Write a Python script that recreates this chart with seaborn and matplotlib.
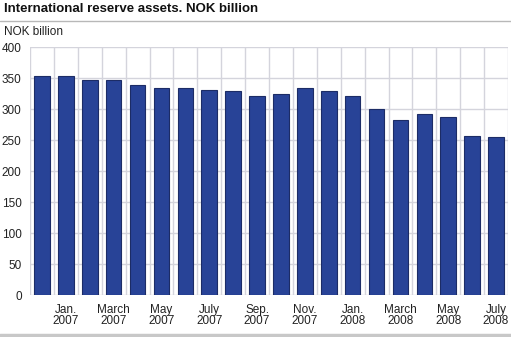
import matplotlib
matplotlib.use("Agg")
import matplotlib.pyplot as plt
import seaborn as sns
import pandas as pd
from matplotlib.lines import Line2D

months = ["Dec 2006", "Jan 2007", "Feb 2007", "Mar 2007", "Apr 2007", "May 2007",
          "Jun 2007", "Jul 2007", "Aug 2007", "Sep 2007", "Oct 2007", "Nov 2007",
          "Dec 2007", "Jan 2008", "Feb 2008", "Mar 2008", "Apr 2008", "May 2008",
          "Jun 2008", "Jul 2008"]
values = [354, 353, 347, 347, 339, 335, 334, 331, 329, 322, 324, 334,
          330, 321, 300, 283, 292, 287, 257, 255]
tick_labels = ["", "Jan.\n2007", "", "March\n2007", "", "May\n2007", "", "July\n2007",
               "", "Sep.\n2007", "", "Nov.\n2007", "", "Jan.\n2008", "", "March\n2008",
               "", "May\n2008", "", "July\n2008"]
yticks = [0, 50, 100, 150, 200, 250, 300, 350, 400]

sns.set_theme(style="white")
plt.rcParams["font.family"] = ["Liberation Sans", "DejaVu Sans"]

df = pd.DataFrame({"month": months, "value": values})

fig = plt.figure(figsize=(5.11, 3.37), dpi=100)
ax = fig.add_axes([30 / 511, 41.7 / 337, 478 / 511, 248 / 337])

sns.barplot(data=df, x="month", y="value", order=months, color="#284397",
            saturation=1, width=0.65, edgecolor="#1c2c66", linewidth=0.8,
            ax=ax, zorder=3)

ax.set_ylim(0, 400)
ax.set_xlim(-0.5, len(months) - 0.5)
ax.set_yticks(yticks)
ax.set_yticklabels([str(v) for v in yticks], fontsize=8.5, color="#222222")
ax.set_xticks(range(len(months)))
ax.set_xticklabels(tick_labels, fontsize=8.5, color="#222222", linespacing=0.95)
ax.tick_params(axis="x", length=0, pad=6)
ax.tick_params(axis="y", length=0, pad=6)
ax.set_xlabel("")
ax.set_ylabel("")

ax.set_xticks([i + 0.5 for i in range(-1, len(months))], minor=True)
ax.tick_params(axis="x", which="minor", length=0)
ax.grid(axis="y", which="major", color="#d4d4dc", linewidth=1, zorder=0)
ax.grid(axis="x", which="minor", color="#d4d4dc", linewidth=1, zorder=0)
ax.grid(axis="x", which="major", visible=False)
for s in ax.spines.values():
    s.set_visible(False)

fig.text(4 / 511, 1 - 9 / 337, "International reserve assets. NOK billion",
         fontsize=9.5, fontweight="bold", va="center", ha="left", color="#111111")
fig.text(4 / 511, 1 - 32 / 337, "NOK billion", fontsize=8.5, va="center",
         ha="left", color="#222222")
fig.add_artist(Line2D([0, 1], [1 - 20.5 / 337, 1 - 20.5 / 337],
                      transform=fig.transFigure, color="#b8b8b8", linewidth=1))
fig.add_artist(Line2D([0, 1], [1 - 335 / 337, 1 - 335 / 337],
                      transform=fig.transFigure, color="#c8c8c8", linewidth=2.5))

fig.savefig("out.png", dpi=100)
